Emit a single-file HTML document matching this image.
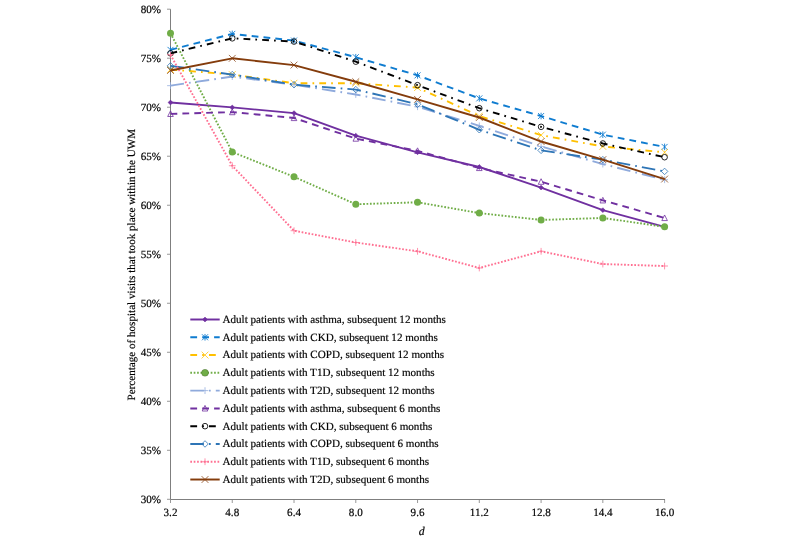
<!DOCTYPE html>
<html><head><meta charset="utf-8"><title>Chart</title>
<style>html,body{margin:0;padding:0;background:#fff}svg{display:block;will-change:transform}text{text-rendering:geometricPrecision}</style></head>
<body>
<svg width="800" height="539" viewBox="0 0 800 539">
<path d="M170.5 9.2V499.5H665.0" fill="none" stroke="#7f7f7f" stroke-width="1"/>
<path d="M167.0 499.30H170.5M167.0 450.29H170.5M167.0 401.28H170.5M167.0 352.27H170.5M167.0 303.26H170.5M167.0 254.25H170.5M167.0 205.24H170.5M167.0 156.23H170.5M167.0 107.22H170.5M167.0 58.21H170.5M167.0 9.20H170.5M170.50 499.5V503M232.26 499.5V503M294.02 499.5V503M355.79 499.5V503M417.55 499.5V503M479.31 499.5V503M541.08 499.5V503M602.84 499.5V503M664.60 499.5V503" fill="none" stroke="#7f7f7f" stroke-width="0.8"/>
<g font-family="'Liberation Serif', serif" font-size="11.1" fill="#000" stroke="#000" stroke-width="0.18">
<text transform="translate(161.00 503.10) scale(1 1.0)" text-anchor="end">30%</text>
<text transform="translate(161.00 454.09) scale(1 1.0)" text-anchor="end">35%</text>
<text transform="translate(161.00 405.08) scale(1 1.0)" text-anchor="end">40%</text>
<text transform="translate(161.00 356.07) scale(1 1.0)" text-anchor="end">45%</text>
<text transform="translate(161.00 307.06) scale(1 1.0)" text-anchor="end">50%</text>
<text transform="translate(161.00 258.05) scale(1 1.0)" text-anchor="end">55%</text>
<text transform="translate(161.00 209.04) scale(1 1.0)" text-anchor="end">60%</text>
<text transform="translate(161.00 160.03) scale(1 1.0)" text-anchor="end">65%</text>
<text transform="translate(161.00 111.02) scale(1 1.0)" text-anchor="end">70%</text>
<text transform="translate(161.00 62.01) scale(1 1.0)" text-anchor="end">75%</text>
<text transform="translate(161.00 13.00) scale(1 1.0)" text-anchor="end">80%</text>
<text transform="translate(170.50 516.20) scale(1 1.0)" text-anchor="middle">3.2</text>
<text transform="translate(232.26 516.20) scale(1 1.0)" text-anchor="middle">4.8</text>
<text transform="translate(294.02 516.20) scale(1 1.0)" text-anchor="middle">6.4</text>
<text transform="translate(355.79 516.20) scale(1 1.0)" text-anchor="middle">8.0</text>
<text transform="translate(417.55 516.20) scale(1 1.0)" text-anchor="middle">9.6</text>
<text transform="translate(479.31 516.20) scale(1 1.0)" text-anchor="middle">11.2</text>
<text transform="translate(541.08 516.20) scale(1 1.0)" text-anchor="middle">12.8</text>
<text transform="translate(602.84 516.20) scale(1 1.0)" text-anchor="middle">14.4</text>
<text transform="translate(664.60 516.20) scale(1 1.0)" text-anchor="middle">16.0</text>
<text transform="translate(421.60 534.60) scale(1 1.0)" text-anchor="middle" font-size="11.8" font-style="italic">d</text>
<text transform="translate(135.20 264.70) rotate(-90) scale(1 1.0)" text-anchor="middle">Percentage of hospital visits that took place within the UWM</text>
</g>
<polyline points="170.50,102.52 232.26,107.42 294.02,113.10 355.79,135.65 417.55,152.31 479.31,167.01 541.08,187.60 602.84,210.14 664.60,226.80" fill="none" stroke="#7030a0" stroke-width="1.9" stroke-linejoin="round"/>
<path d="M170.50 100.12L172.90 102.52L170.50 104.92L168.10 102.52Z" fill="#7030a0" stroke="#7030a0" stroke-width="0.6"/>
<path d="M232.26 105.02L234.66 107.42L232.26 109.82L229.86 107.42Z" fill="#7030a0" stroke="#7030a0" stroke-width="0.6"/>
<path d="M294.02 110.70L296.42 113.10L294.02 115.50L291.62 113.10Z" fill="#7030a0" stroke="#7030a0" stroke-width="0.6"/>
<path d="M355.79 133.25L358.19 135.65L355.79 138.05L353.39 135.65Z" fill="#7030a0" stroke="#7030a0" stroke-width="0.6"/>
<path d="M417.55 149.91L419.95 152.31L417.55 154.71L415.15 152.31Z" fill="#7030a0" stroke="#7030a0" stroke-width="0.6"/>
<path d="M479.31 164.61L481.71 167.01L479.31 169.41L476.91 167.01Z" fill="#7030a0" stroke="#7030a0" stroke-width="0.6"/>
<path d="M541.08 185.20L543.48 187.60L541.08 190.00L538.68 187.60Z" fill="#7030a0" stroke="#7030a0" stroke-width="0.6"/>
<path d="M602.84 207.74L605.24 210.14L602.84 212.54L600.44 210.14Z" fill="#7030a0" stroke="#7030a0" stroke-width="0.6"/>
<path d="M664.60 224.40L667.00 226.80L664.60 229.20L662.20 226.80Z" fill="#7030a0" stroke="#7030a0" stroke-width="0.6"/>
<polyline points="170.50,49.88 232.26,33.90 294.02,40.57 355.79,57.23 417.55,75.36 479.31,98.40 541.08,116.04 602.84,134.67 664.60,146.92" fill="none" stroke="#0f7cd0" stroke-width="1.9" stroke-dasharray="6.8 5.1" stroke-linejoin="round"/>
<path d="M167.50 46.88L173.50 52.88M167.50 52.88L173.50 46.88M170.50 46.58L170.50 53.18" fill="none" stroke="#0f7cd0" stroke-width="0.9"/>
<path d="M229.26 30.90L235.26 36.90M229.26 36.90L235.26 30.90M232.26 30.60L232.26 37.20" fill="none" stroke="#0f7cd0" stroke-width="0.9"/>
<path d="M291.02 37.57L297.02 43.57M291.02 43.57L297.02 37.57M294.02 37.27L294.02 43.87" fill="none" stroke="#0f7cd0" stroke-width="0.9"/>
<path d="M352.79 54.23L358.79 60.23M352.79 60.23L358.79 54.23M355.79 53.93L355.79 60.53" fill="none" stroke="#0f7cd0" stroke-width="0.9"/>
<path d="M414.55 72.36L420.55 78.36M414.55 78.36L420.55 72.36M417.55 72.06L417.55 78.66" fill="none" stroke="#0f7cd0" stroke-width="0.9"/>
<path d="M476.31 95.40L482.31 101.40M476.31 101.40L482.31 95.40M479.31 95.10L479.31 101.70" fill="none" stroke="#0f7cd0" stroke-width="0.9"/>
<path d="M538.08 113.04L544.08 119.04M538.08 119.04L544.08 113.04M541.08 112.74L541.08 119.34" fill="none" stroke="#0f7cd0" stroke-width="0.9"/>
<path d="M599.84 131.67L605.84 137.67M599.84 137.67L605.84 131.67M602.84 131.37L602.84 137.97" fill="none" stroke="#0f7cd0" stroke-width="0.9"/>
<path d="M661.60 143.92L667.60 149.92M661.60 149.92L667.60 143.92M664.60 143.62L664.60 150.22" fill="none" stroke="#0f7cd0" stroke-width="0.9"/>
<polyline points="170.50,69.48 232.26,74.58 294.02,83.21 355.79,83.21 417.55,87.62 479.31,116.04 541.08,135.16 602.84,146.43 664.60,152.31" fill="none" stroke="#ffc000" stroke-width="1.9" stroke-dasharray="6.8 5.1 1.7 5.1" stroke-linejoin="round"/>
<path d="M167.10 66.08L173.90 72.88M167.10 72.88L173.90 66.08" fill="none" stroke="#ffc000" stroke-width="0.75"/>
<path d="M228.86 71.18L235.66 77.98M228.86 77.98L235.66 71.18" fill="none" stroke="#ffc000" stroke-width="0.75"/>
<path d="M290.62 79.81L297.42 86.61M290.62 86.61L297.42 79.81" fill="none" stroke="#ffc000" stroke-width="0.75"/>
<path d="M352.39 79.81L359.19 86.61M352.39 86.61L359.19 79.81" fill="none" stroke="#ffc000" stroke-width="0.75"/>
<path d="M414.15 84.22L420.95 91.02M414.15 91.02L420.95 84.22" fill="none" stroke="#ffc000" stroke-width="0.75"/>
<path d="M475.91 112.64L482.71 119.44M475.91 119.44L482.71 112.64" fill="none" stroke="#ffc000" stroke-width="0.75"/>
<path d="M537.68 131.76L544.48 138.56M537.68 138.56L544.48 131.76" fill="none" stroke="#ffc000" stroke-width="0.75"/>
<path d="M599.44 143.03L606.24 149.83M599.44 149.83L606.24 143.03" fill="none" stroke="#ffc000" stroke-width="0.75"/>
<path d="M661.20 148.91L668.00 155.71M661.20 155.71L668.00 148.91" fill="none" stroke="#ffc000" stroke-width="0.75"/>
<polyline points="170.50,33.21 232.26,152.02 294.02,176.81 355.79,204.26 417.55,202.30 479.31,213.08 541.08,219.94 602.84,217.98 664.60,226.80" fill="none" stroke="#70ad47" stroke-width="1.9" stroke-dasharray="1.7 1.7" stroke-linejoin="round"/>
<circle cx="170.50" cy="33.21" r="3.5" fill="#70ad47"/>
<circle cx="232.26" cy="152.02" r="3.5" fill="#70ad47"/>
<circle cx="294.02" cy="176.81" r="3.5" fill="#70ad47"/>
<circle cx="355.79" cy="204.26" r="3.5" fill="#70ad47"/>
<circle cx="417.55" cy="202.30" r="3.5" fill="#70ad47"/>
<circle cx="479.31" cy="213.08" r="3.5" fill="#70ad47"/>
<circle cx="541.08" cy="219.94" r="3.5" fill="#70ad47"/>
<circle cx="602.84" cy="217.98" r="3.5" fill="#70ad47"/>
<circle cx="664.60" cy="226.80" r="3.5" fill="#70ad47"/>
<polyline points="170.50,85.66 232.26,76.54 294.02,84.68 355.79,94.48 417.55,106.73 479.31,125.84 541.08,146.43 602.84,164.07 664.60,179.75" fill="none" stroke="#8faadc" stroke-width="1.9" stroke-dasharray="13.6 5.1 1.7 5.1" stroke-linejoin="round"/>
<path d="M167.10 85.66L173.90 85.66M170.50 82.26L170.50 89.06" fill="none" stroke="#8faadc" stroke-width="0.75"/>
<path d="M228.86 76.54L235.66 76.54M232.26 73.14L232.26 79.94" fill="none" stroke="#8faadc" stroke-width="0.75"/>
<path d="M290.62 84.68L297.42 84.68M294.02 81.28L294.02 88.08" fill="none" stroke="#8faadc" stroke-width="0.75"/>
<path d="M352.39 94.48L359.19 94.48M355.79 91.08L355.79 97.88" fill="none" stroke="#8faadc" stroke-width="0.75"/>
<path d="M414.15 106.73L420.95 106.73M417.55 103.33L417.55 110.13" fill="none" stroke="#8faadc" stroke-width="0.75"/>
<path d="M475.91 125.84L482.71 125.84M479.31 122.44L479.31 129.24" fill="none" stroke="#8faadc" stroke-width="0.75"/>
<path d="M537.68 146.43L544.48 146.43M541.08 143.03L541.08 149.83" fill="none" stroke="#8faadc" stroke-width="0.75"/>
<path d="M599.44 164.07L606.24 164.07M602.84 160.67L602.84 167.47" fill="none" stroke="#8faadc" stroke-width="0.75"/>
<path d="M661.20 179.75L668.00 179.75M664.60 176.35L664.60 183.15" fill="none" stroke="#8faadc" stroke-width="0.75"/>
<polyline points="170.50,113.89 232.26,112.12 294.02,118.00 355.79,138.59 417.55,150.84 479.31,167.99 541.08,181.72 602.84,200.34 664.60,217.98" fill="none" stroke="#7030a0" stroke-width="1.9" stroke-dasharray="6.8 5.1" stroke-linejoin="round"/>
<path d="M170.50 110.89L173.30 116.49L167.70 116.49Z" fill="none" stroke="#7030a0" stroke-width="0.8"/>
<path d="M232.26 109.12L235.06 114.72L229.46 114.72Z" fill="none" stroke="#7030a0" stroke-width="0.8"/>
<path d="M294.02 115.00L296.82 120.60L291.22 120.60Z" fill="none" stroke="#7030a0" stroke-width="0.8"/>
<path d="M355.79 135.59L358.59 141.19L352.99 141.19Z" fill="none" stroke="#7030a0" stroke-width="0.8"/>
<path d="M417.55 147.84L420.35 153.44L414.75 153.44Z" fill="none" stroke="#7030a0" stroke-width="0.8"/>
<path d="M479.31 164.99L482.11 170.59L476.51 170.59Z" fill="none" stroke="#7030a0" stroke-width="0.8"/>
<path d="M541.08 178.72L543.88 184.32L538.28 184.32Z" fill="none" stroke="#7030a0" stroke-width="0.8"/>
<path d="M602.84 197.34L605.64 202.94L600.04 202.94Z" fill="none" stroke="#7030a0" stroke-width="0.8"/>
<path d="M664.60 214.98L667.40 220.58L661.80 220.58Z" fill="none" stroke="#7030a0" stroke-width="0.8"/>
<polyline points="170.50,53.31 232.26,38.31 294.02,41.55 355.79,61.64 417.55,85.17 479.31,108.20 541.08,126.82 602.84,143.49 664.60,157.21" fill="none" stroke="#000000" stroke-width="1.9" stroke-dasharray="6.8 5.1 1.7 5.1" stroke-linejoin="round"/>
<circle cx="170.50" cy="53.31" r="2.8" fill="none" stroke="#000000" stroke-width="0.85"/>
<circle cx="232.26" cy="38.31" r="2.8" fill="none" stroke="#000000" stroke-width="0.85"/>
<circle cx="294.02" cy="41.55" r="2.8" fill="none" stroke="#000000" stroke-width="0.85"/>
<circle cx="355.79" cy="61.64" r="2.8" fill="none" stroke="#000000" stroke-width="0.85"/>
<circle cx="417.55" cy="85.17" r="2.8" fill="none" stroke="#000000" stroke-width="0.85"/>
<circle cx="479.31" cy="108.20" r="2.8" fill="none" stroke="#000000" stroke-width="0.85"/>
<circle cx="541.08" cy="126.82" r="2.8" fill="none" stroke="#000000" stroke-width="0.85"/>
<circle cx="602.84" cy="143.49" r="2.8" fill="none" stroke="#000000" stroke-width="0.85"/>
<circle cx="664.60" cy="157.21" r="2.8" fill="none" stroke="#000000" stroke-width="0.85"/>
<polyline points="170.50,65.86 232.26,74.58 294.02,84.68 355.79,89.58 417.55,104.28 479.31,129.76 541.08,150.35 602.84,159.66 664.60,171.42" fill="none" stroke="#2e75b6" stroke-width="1.9" stroke-dasharray="13.6 5.1 1.7 5.1" stroke-linejoin="round"/>
<path d="M170.50 62.61L173.75 65.86L170.50 69.11L167.25 65.86Z" fill="none" stroke="#2e75b6" stroke-width="0.8"/>
<path d="M232.26 71.33L235.51 74.58L232.26 77.83L229.01 74.58Z" fill="none" stroke="#2e75b6" stroke-width="0.8"/>
<path d="M294.02 81.43L297.27 84.68L294.02 87.93L290.77 84.68Z" fill="none" stroke="#2e75b6" stroke-width="0.8"/>
<path d="M355.79 86.33L359.04 89.58L355.79 92.83L352.54 89.58Z" fill="none" stroke="#2e75b6" stroke-width="0.8"/>
<path d="M417.55 101.03L420.80 104.28L417.55 107.53L414.30 104.28Z" fill="none" stroke="#2e75b6" stroke-width="0.8"/>
<path d="M479.31 126.51L482.56 129.76L479.31 133.01L476.06 129.76Z" fill="none" stroke="#2e75b6" stroke-width="0.8"/>
<path d="M541.08 147.10L544.33 150.35L541.08 153.60L537.83 150.35Z" fill="none" stroke="#2e75b6" stroke-width="0.8"/>
<path d="M602.84 156.41L606.09 159.66L602.84 162.91L599.59 159.66Z" fill="none" stroke="#2e75b6" stroke-width="0.8"/>
<path d="M664.60 168.17L667.85 171.42L664.60 174.67L661.35 171.42Z" fill="none" stroke="#2e75b6" stroke-width="0.8"/>
<polyline points="170.50,54.78 232.26,165.74 294.02,230.73 355.79,242.49 417.55,251.31 479.31,267.97 541.08,251.31 602.84,264.05 664.60,266.01" fill="none" stroke="#ff6f91" stroke-width="1.9" stroke-dasharray="1.7 1.7" stroke-linejoin="round"/>
<path d="M167.10 54.78L173.90 54.78M170.50 51.38L170.50 58.18" fill="none" stroke="#ff6f91" stroke-width="0.75"/>
<path d="M228.86 165.74L235.66 165.74M232.26 162.34L232.26 169.14" fill="none" stroke="#ff6f91" stroke-width="0.75"/>
<path d="M290.62 230.73L297.42 230.73M294.02 227.33L294.02 234.13" fill="none" stroke="#ff6f91" stroke-width="0.75"/>
<path d="M352.39 242.49L359.19 242.49M355.79 239.09L355.79 245.89" fill="none" stroke="#ff6f91" stroke-width="0.75"/>
<path d="M414.15 251.31L420.95 251.31M417.55 247.91L417.55 254.71" fill="none" stroke="#ff6f91" stroke-width="0.75"/>
<path d="M475.91 267.97L482.71 267.97M479.31 264.57L479.31 271.37" fill="none" stroke="#ff6f91" stroke-width="0.75"/>
<path d="M537.68 251.31L544.48 251.31M541.08 247.91L541.08 254.71" fill="none" stroke="#ff6f91" stroke-width="0.75"/>
<path d="M599.44 264.05L606.24 264.05M602.84 260.65L602.84 267.45" fill="none" stroke="#ff6f91" stroke-width="0.75"/>
<path d="M661.20 266.01L668.00 266.01M664.60 262.61L664.60 269.41" fill="none" stroke="#ff6f91" stroke-width="0.75"/>
<polyline points="170.50,70.46 232.26,58.31 294.02,65.07 355.79,81.73 417.55,99.38 479.31,117.51 541.08,141.53 602.84,159.66 664.60,179.07" fill="none" stroke="#843c0c" stroke-width="1.9" stroke-linejoin="round"/>
<path d="M167.10 67.06L173.90 73.86M167.10 73.86L173.90 67.06" fill="none" stroke="#843c0c" stroke-width="0.75"/>
<path d="M228.86 54.91L235.66 61.71M228.86 61.71L235.66 54.91" fill="none" stroke="#843c0c" stroke-width="0.75"/>
<path d="M290.62 61.67L297.42 68.47M290.62 68.47L297.42 61.67" fill="none" stroke="#843c0c" stroke-width="0.75"/>
<path d="M352.39 78.33L359.19 85.13M352.39 85.13L359.19 78.33" fill="none" stroke="#843c0c" stroke-width="0.75"/>
<path d="M414.15 95.98L420.95 102.78M414.15 102.78L420.95 95.98" fill="none" stroke="#843c0c" stroke-width="0.75"/>
<path d="M475.91 114.11L482.71 120.91M475.91 120.91L482.71 114.11" fill="none" stroke="#843c0c" stroke-width="0.75"/>
<path d="M537.68 138.13L544.48 144.93M537.68 144.93L544.48 138.13" fill="none" stroke="#843c0c" stroke-width="0.75"/>
<path d="M599.44 156.26L606.24 163.06M599.44 163.06L606.24 156.26" fill="none" stroke="#843c0c" stroke-width="0.75"/>
<path d="M661.20 175.67L668.00 182.47M661.20 182.47L668.00 175.67" fill="none" stroke="#843c0c" stroke-width="0.75"/>
<g font-family="'Liberation Serif', serif" font-size="11.1" fill="#000" stroke="#000" stroke-width="0.18">
<path d="M190.3 319.50H219.7" fill="none" stroke="#7030a0" stroke-width="1.95"/>
<path d="M205.00 317.10L207.40 319.50L205.00 321.90L202.60 319.50Z" fill="#7030a0" stroke="#7030a0" stroke-width="0.6"/>
<text transform="translate(222.50 322.90) scale(1 1.0)" text-anchor="start">Adult patients with asthma, subsequent 12 months</text>
<path d="M190.3 337.28H219.7" fill="none" stroke="#0f7cd0" stroke-width="1.95" stroke-dasharray="6.8 5.1"/>
<path d="M202.00 334.28L208.00 340.28M202.00 340.28L208.00 334.28M205.00 333.98L205.00 340.58" fill="none" stroke="#0f7cd0" stroke-width="0.9"/>
<text transform="translate(222.50 340.68) scale(1 1.0)" text-anchor="start">Adult patients with CKD, subsequent 12 months</text>
<path d="M190.3 355.06H219.7" fill="none" stroke="#ffc000" stroke-width="1.95" stroke-dasharray="6.8 5.1 1.7 5.1"/>
<path d="M201.60 351.66L208.40 358.46M201.60 358.46L208.40 351.66" fill="none" stroke="#ffc000" stroke-width="0.75"/>
<text transform="translate(222.50 358.46) scale(1 1.0)" text-anchor="start">Adult patients with COPD, subsequent 12 months</text>
<path d="M190.3 372.84H219.7" fill="none" stroke="#70ad47" stroke-width="1.95" stroke-dasharray="1.7 1.7"/>
<circle cx="205.00" cy="372.84" r="3.5" fill="#70ad47"/>
<text transform="translate(222.50 376.24) scale(1 1.0)" text-anchor="start">Adult patients with T1D, subsequent 12 months</text>
<path d="M190.3 390.62H219.7" fill="none" stroke="#8faadc" stroke-width="1.95" stroke-dasharray="13.6 5.1 1.7 5.1"/>
<path d="M201.60 390.62L208.40 390.62M205.00 387.22L205.00 394.02" fill="none" stroke="#8faadc" stroke-width="0.75"/>
<text transform="translate(222.50 394.02) scale(1 1.0)" text-anchor="start">Adult patients with T2D, subsequent 12 months</text>
<path d="M190.3 408.40H219.7" fill="none" stroke="#7030a0" stroke-width="1.95" stroke-dasharray="6.8 5.1"/>
<path d="M205.00 405.40L207.80 411.00L202.20 411.00Z" fill="none" stroke="#7030a0" stroke-width="0.8"/>
<text transform="translate(222.50 411.80) scale(1 1.0)" text-anchor="start">Adult patients with asthma, subsequent 6 months</text>
<path d="M190.3 426.18H219.7" fill="none" stroke="#000000" stroke-width="1.95" stroke-dasharray="6.8 5.1 1.7 5.1"/>
<circle cx="205.00" cy="426.18" r="2.8" fill="none" stroke="#000000" stroke-width="0.85"/>
<text transform="translate(222.50 429.58) scale(1 1.0)" text-anchor="start">Adult patients with CKD, subsequent 6 months</text>
<path d="M190.3 443.96H219.7" fill="none" stroke="#2e75b6" stroke-width="1.95" stroke-dasharray="13.6 5.1 1.7 5.1"/>
<path d="M205.00 440.71L208.25 443.96L205.00 447.21L201.75 443.96Z" fill="none" stroke="#2e75b6" stroke-width="0.8"/>
<text transform="translate(222.50 447.36) scale(1 1.0)" text-anchor="start">Adult patients with COPD, subsequent 6 months</text>
<path d="M190.3 461.74H219.7" fill="none" stroke="#ff6f91" stroke-width="1.95" stroke-dasharray="1.7 1.7"/>
<path d="M201.60 461.74L208.40 461.74M205.00 458.34L205.00 465.14" fill="none" stroke="#ff6f91" stroke-width="0.75"/>
<text transform="translate(222.50 465.14) scale(1 1.0)" text-anchor="start">Adult patients with T1D, subsequent 6 months</text>
<path d="M190.3 479.52H219.7" fill="none" stroke="#843c0c" stroke-width="1.95"/>
<path d="M201.60 476.12L208.40 482.92M201.60 482.92L208.40 476.12" fill="none" stroke="#843c0c" stroke-width="0.75"/>
<text transform="translate(222.50 482.92) scale(1 1.0)" text-anchor="start">Adult patients with T2D, subsequent 6 months</text>
</g>
</svg>
</body></html>
